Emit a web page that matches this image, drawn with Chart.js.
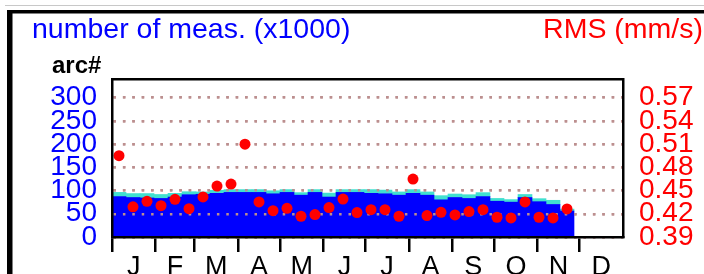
<!DOCTYPE html>
<html>
<head>
<meta charset="utf-8">
<script src="https://cdn.jsdelivr.net/npm/chart.js@4.4.1/dist/chart.umd.min.js"></script>
<style>
  html, body { margin: 0; padding: 0; background: #fff; }
  #wrap { position: relative; width: 704px; height: 274px; overflow: hidden; }
</style>
</head>
<body>
<div id="wrap"><canvas id="grafico" width="704" height="274"></canvas></div>
<script>
// --- DADOS ---
const dias = [5, 15, 25, 35, 45, 55, 65, 75, 85, 95, 105, 115, 125, 135, 145, 155, 165,
  175, 185, 195, 205, 215, 225, 235, 245, 255, 265, 275, 285, 295, 305, 315, 325];

// número de medições (x1000), parte azul e parte ciano (empilhada)
const medAzul = [87, 85, 84, 83, 86, 91, 92, 94, 96,
  96, 96, 93, 96, 90, 96, 86, 96, 96,
  94, 93, 90, 94, 90, 80, 85, 83, 87,
  77, 75, 85, 76, 70, 56];
const medCiano = [9, 8.5, 9.5, 8.5, 8, 6.5, 5, 6.5, 6,
  6, 6, 6.5, 6, 5.5, 6, 8.5, 6, 6,
  8, 8, 7, 8, 7, 9, 7.5, 8, 8.5,
  6, 5.5, 6.5, 6.5, 9, 4];

// RMS (mm/s)
const rms = [0.495, 0.429, 0.436, 0.4305, 0.4386, 0.4266, 0.4417, 0.4558, 0.4584, 0.5098,
  0.4353, 0.424, 0.427, 0.4168, 0.419, 0.428, 0.439, 0.4215, 0.4253, 0.4253, 0.4168,
  0.4648, 0.4176, 0.4219, 0.4185, 0.4228, 0.4253, 0.4155, 0.4146, 0.4353, 0.4155, 0.4146, 0.4263];

const ticksMed = [0, 50, 100, 150, 200, 250, 300];
const ticksRms = [0.39, 0.42, 0.45, 0.48, 0.51, 0.54, 0.57];
const mesInicio = [0, 31, 59, 90, 120, 151, 181, 212, 243, 273, 304, 334];
const mesCentro = [15.5, 45, 74.5, 105, 135.5, 166, 196.5, 227.5, 258, 288.5, 319, 349.5];
const mesLetras = ["J", "F", "M", "A", "M", "J", "J", "A", "S", "O", "N", "D"];

const tituloEsq = "number of meas. (x1000)";
const tituloDir = "RMS (mm/s)";
const rotuloArc = "arc#";

const FONTE = "'Liberation Sans', Arial, Helvetica, sans-serif";

const pontos = (vals) => dias.map((d, i) => ({ x: d, y: vals[i] }));

// textos do topo + moldura, e grade por cima das barras
const extras = {
  id: "extras",
  beforeDraw(chart) {
    const ctx = chart.ctx;
    ctx.save();
    ctx.fillStyle = "#c8c8c8";
    ctx.fillRect(5, 5, 699, 1);
    ctx.fillStyle = "#000";
    ctx.fillRect(7, 10, 697, 3.5);
    ctx.fillRect(7, 10, 5.5, 264);
    ctx.textBaseline = "alphabetic";
    ctx.font = "28.5px " + FONTE;
    ctx.fillStyle = "#0000ff";
    ctx.textAlign = "left";
    ctx.fillText(tituloEsq, 32, 38);
    ctx.fillStyle = "#ff0000";
    ctx.textAlign = "right";
    ctx.fillText(tituloDir, 703, 38);
    ctx.fillStyle = "#000";
    ctx.font = "bold 24px " + FONTE;
    ctx.textAlign = "left";
    ctx.fillText(rotuloArc, 52, 73);
    ctx.restore();
  },
  beforeDatasetDraw(chart, args) {
    if (args.index === 0) chart.scales.y.drawGrid(chart.chartArea);
  }
};

const grafico = new Chart(document.getElementById("grafico"), {
  type: "bar",
  data: {
    datasets: [
      {
        type: "line",
        label: "RMS",
        data: pontos(rms),
        xAxisID: "x",
        yAxisID: "y1",
        showLine: false,
        pointRadius: 5.5,
        pointBackgroundColor: "#ff0000",
        pointBorderWidth: 0,
        borderColor: "#ff0000",
        order: 0,
      },
      {
        label: "meas",
        data: pontos(medAzul),
        backgroundColor: "#0000ff",
        borderWidth: 0,
        barPercentage: 1,
        categoryPercentage: 1,
        xAxisID: "x",
        yAxisID: "y",
        order: 1,
      },
      {
        label: "meas2",
        data: pontos(medCiano),
        backgroundColor: "#40e0d0",
        borderWidth: 0,
        barPercentage: 1,
        categoryPercentage: 1,
        xAxisID: "x",
        yAxisID: "y",
        order: 1,
      },
    ],
  },
  options: {
    responsive: false,
    animation: false,
    devicePixelRatio: 1,
    layout: { padding: { left: 0, right: 0, top: 79, bottom: 0 } },
    plugins: { legend: { display: false }, tooltip: { enabled: false } },
    scales: {
      x: {
        type: "linear", axis: "x", position: "bottom", weight: 0,
        min: 0, max: 365, offset: false, stacked: true,
        afterBuildTicks: (s) => { s.ticks = mesInicio.map((v) => ({ value: v })); },
        afterFit: (s) => { s.height = 15; },
        ticks: { display: false },
        grid: { offset: false, drawOnChartArea: false, drawTicks: true, tickLength: 15,
          color: "#000", tickColor: "#000", lineWidth: 2.5, tickWidth: 2.5 },
        border: { display: true, color: "#000", width: 2.5, z: 1 },
      },
      x2: {
        type: "linear", axis: "x", position: "bottom", weight: 1,
        min: 0, max: 365, offset: false,
        afterBuildTicks: (s) => { s.ticks = mesCentro.map((v) => ({ value: v })); },
        afterFit: (s) => { s.height = 22; },
        ticks: { autoSkip: false, maxRotation: 0, padding: -1, color: "#000",
          font: { family: FONTE, size: 27 },
          callback: (v, i) => mesLetras[i] },
        grid: { display: false, drawTicks: false, offset: false },
        border: { display: false },
      },
      xtop: {
        type: "linear", axis: "x", position: "top",
        min: 0, max: 365, offset: false,
        afterFit: (s) => { s.height = 0; },
        ticks: { display: false },
        grid: { drawOnChartArea: false, drawTicks: false, offset: false },
        border: { display: true, color: "#000", width: 2.5, z: 1 },
      },
      y: {
        type: "linear", position: "left", min: 0, max: 340, stacked: true,
        afterBuildTicks: (s) => { s.ticks = ticksMed.map((v) => ({ value: v })); },
        afterFit: (s) => { s.width = 112; },
        ticks: { autoSkip: false, padding: 15, color: "#0000ff",
          font: { family: FONTE, size: 28 } },
        grid: { color: "#bc8f8f", lineWidth: 2.5, drawTicks: false },
        border: { display: true, color: "#000", width: 2.5, z: 1, dash: [2.5, 6.9] },
      },
      y1: {
        type: "linear", position: "right", min: 0.39, max: 0.594, stacked: false,
        afterBuildTicks: (s) => { s.ticks = ticksRms.map((v) => ({ value: v })); },
        afterFit: (s) => { s.width = 81; },
        ticks: { autoSkip: false, padding: 16, color: "#ff0000",
          font: { family: FONTE, size: 28 },
          callback: (v) => Number(v).toFixed(2) },
        grid: { drawOnChartArea: false, drawTicks: false },
        border: { display: true, color: "#000", width: 2.5, z: 1 },
      },
    },
  },
  plugins: [extras],
});
</script>
</body>
</html>
